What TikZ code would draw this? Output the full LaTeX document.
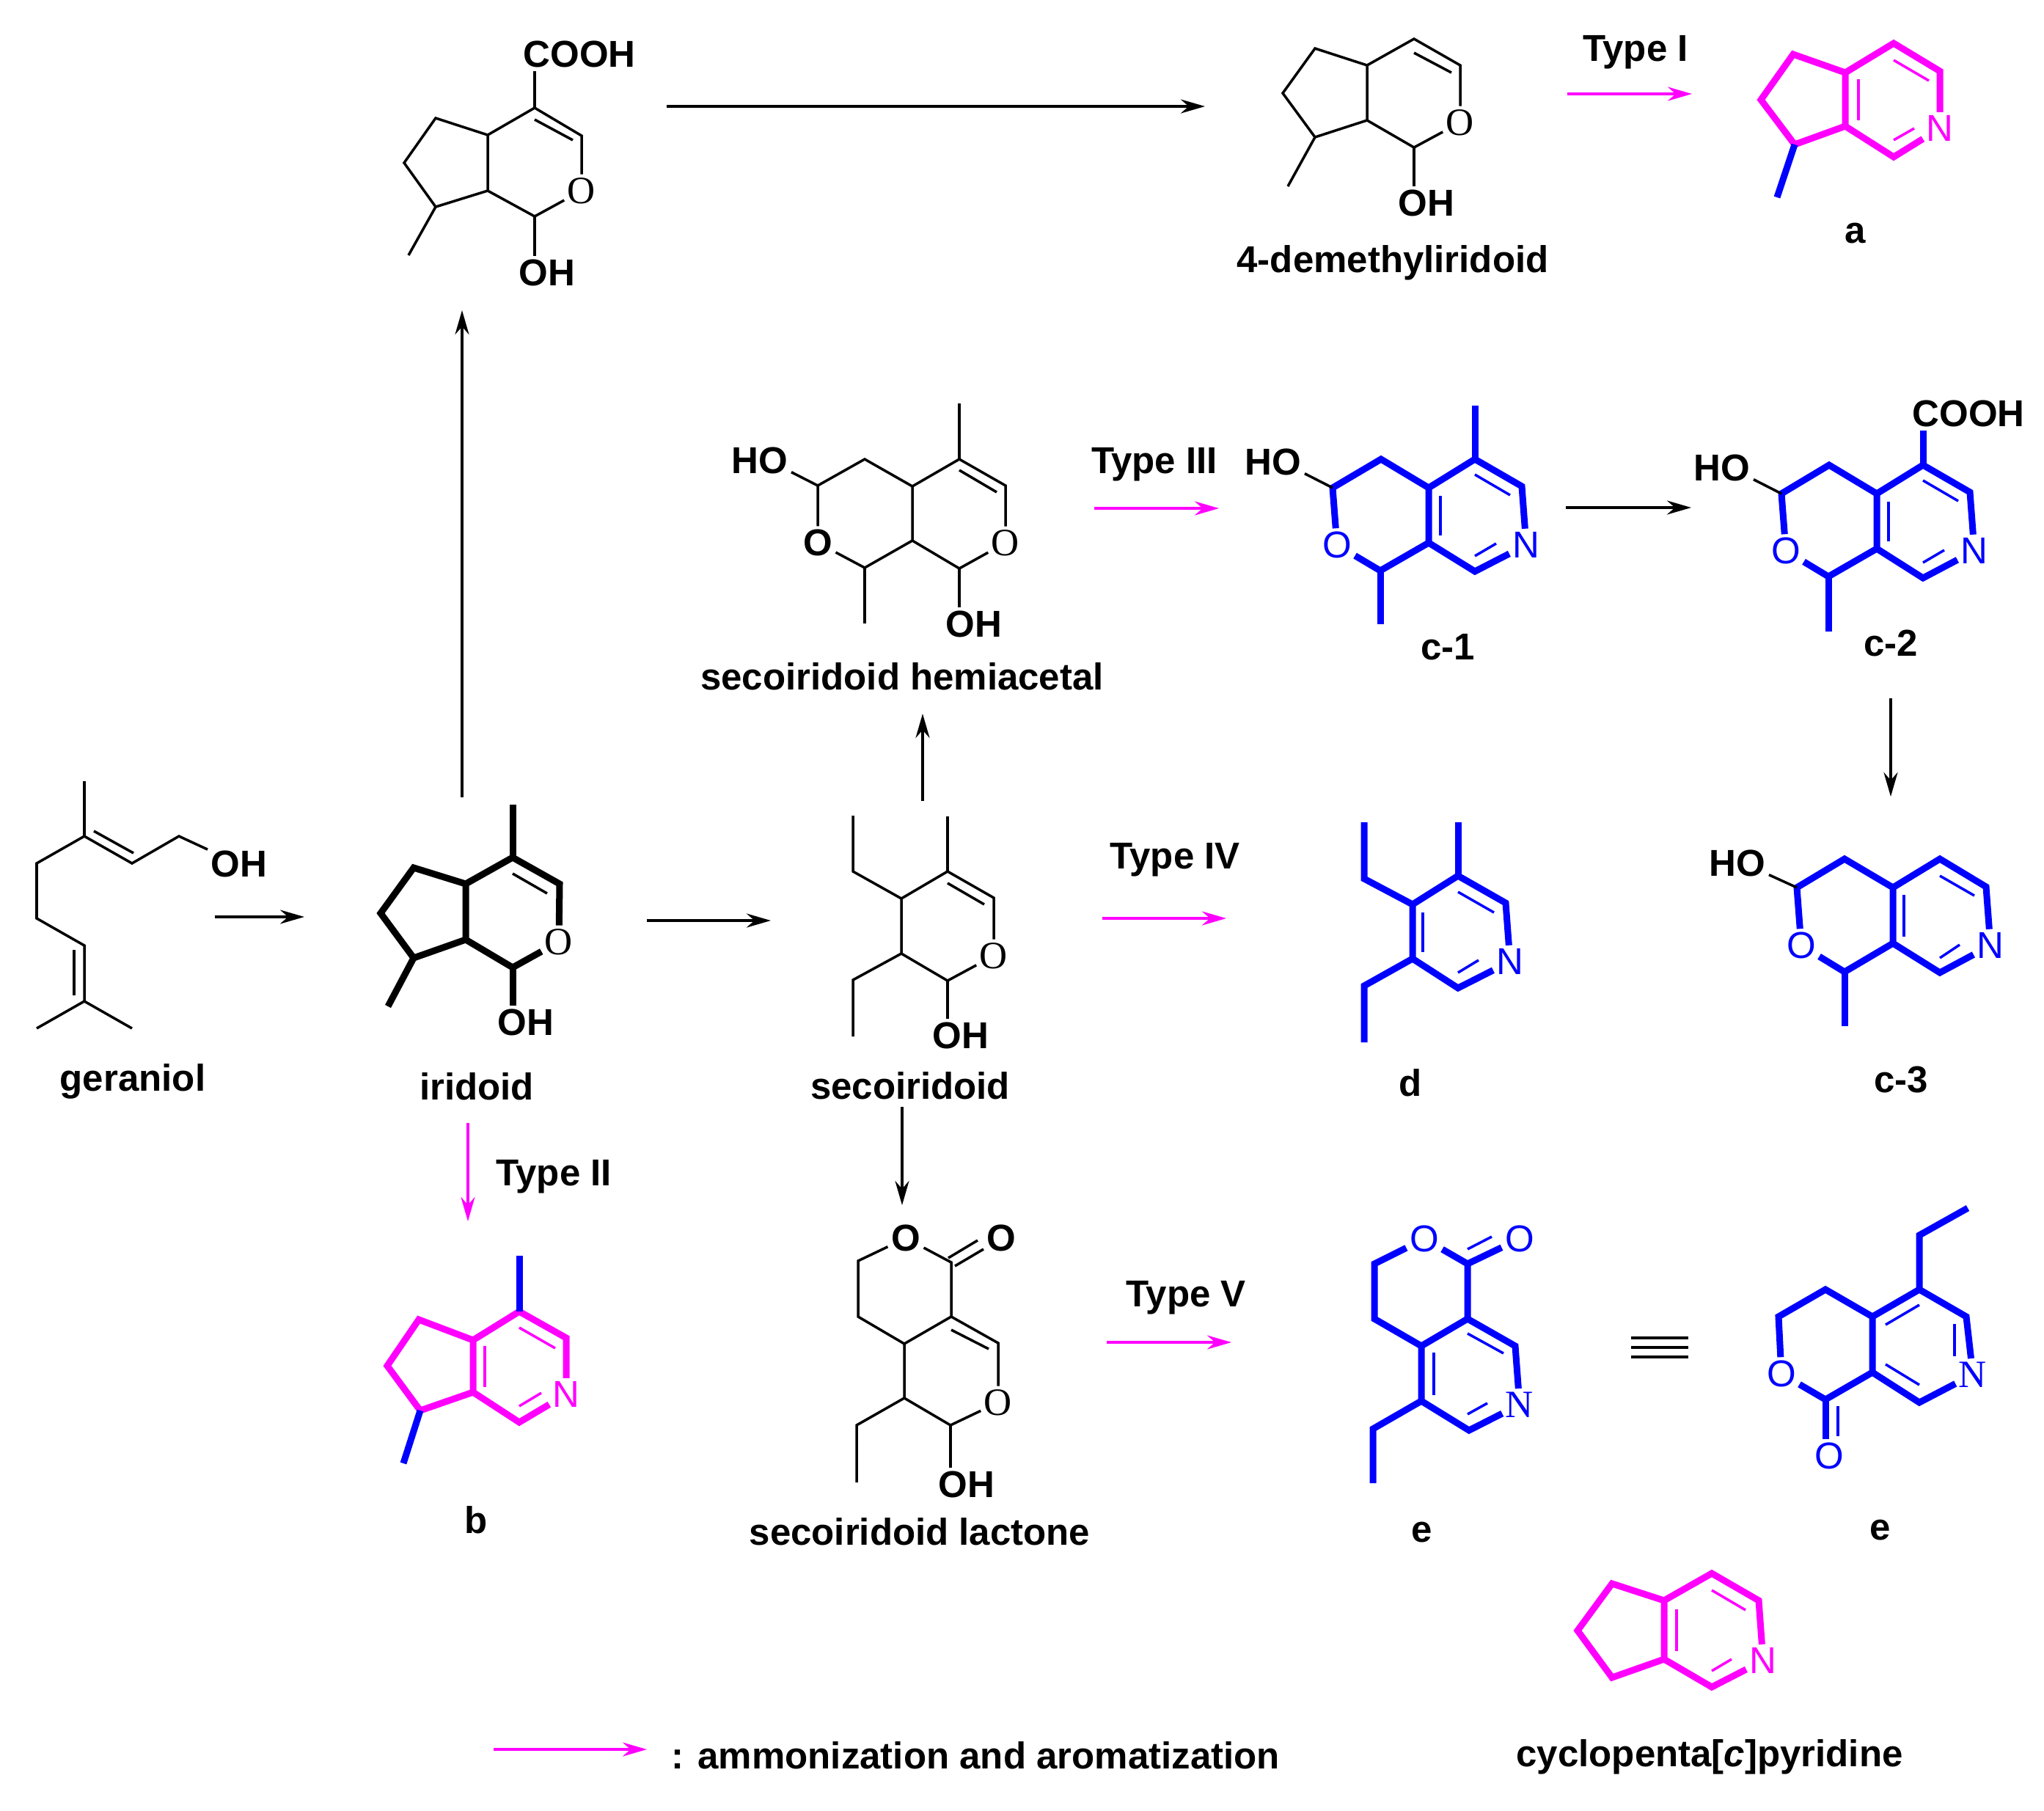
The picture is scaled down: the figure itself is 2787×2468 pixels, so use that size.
\documentclass[tikz,border=0pt]{standalone}
\usepackage{fontspec}
\setsansfont{Liberation Sans}
\newfontfamily\atomserif{Liberation Serif}
\usetikzlibrary{
    arrows.meta,      % For the Stealth arrow tips
    calc
}
\definecolor{AmmoPink}{HTML}{FF00FF}
\definecolor{RingBlue}{HTML}{0000FF}

\begin{document}
\begin{tikzpicture}[x=0.01cm,y=-0.01cm,font=\sffamily]
    % --- Styles ---
    \tikzset{
        bond/.style={line width=0.35mm},
        boldbond/.style={line width=0.9mm},
        dbl/.style={line width=0.35mm},
        arrow/.style={line width=0.35mm,-{Stealth[length=3.3mm,width=1.9mm]}},
        pinkarrow/.style={arrow,draw=AmmoPink},
        compound/.style={inner sep=0pt,font=\sffamily\bfseries\fontsize{14.5}{16}\selectfont},
        atom/.style={inner sep=0.4mm,font=\sffamily\bfseries\fontsize{14.5}{16}\selectfont},
        thinatom/.style={inner sep=0.4mm,font=\sffamily\fontsize{14.5}{16}\selectfont},
        seratom/.style={inner sep=0.4mm,font=\atomserif\fontsize{15}{16}\selectfont},
    }
    \useasboundingbox (0,0) rectangle (2787,2468);

    % --- Geraniol ---
    \coordinate (gerMe) at (115,1065);
    \coordinate (gerA) at (115,1140);
    \coordinate (gerB) at (180,1177);
    \coordinate (gerC) at (244,1140);
    \coordinate (gerD) at (50,1177);
    \coordinate (gerE) at (50,1252);
    \coordinate (gerF) at (115,1289);
    \coordinate (gerG) at (115,1365);
    \coordinate (gerH) at (50,1402);
    \coordinate (gerI) at (180,1402);
    \node[atom] (gerOH) at (326,1178) {OH};
    \node[compound] (gerName) at (181,1474) {geraniol};
    \draw[bond] (gerOH) -- (gerC) -- (gerB) -- (gerA) -- (gerD) -- (gerE) -- (gerF) -- (gerG) -- (gerH);
    \draw[bond] (gerMe) -- (gerA);
    \draw[bond] (gerG) -- (gerI);
    \draw[dbl] (128,1133) -- (182,1163);
    \draw[dbl] (101,1295) -- (101,1357);

    % --- Iridoid ---
    \coordinate (iriC4a) at (635,1205);
    \coordinate (iriC4) at (699,1169);
    \coordinate (iriC3) at (763,1205);
    \coordinate (iriC1) at (699,1319);
    \coordinate (iriC7a) at (635,1281);
    \coordinate (iriC5) at (564,1183);
    \coordinate (iriC6) at (519,1245);
    \coordinate (iriC7) at (564,1306);
    \coordinate (iriMe) at (529,1372);
    \coordinate (iriMeT) at (699,1097);
    \node[seratom] (iriO) at (762,1284) {O};
    \node[atom] (iriOH) at (717,1394) {OH};
    \node[compound] (iriName) at (650,1481) {iridoid};
    \draw[boldbond] (iriO) -- (iriC3) -- (iriC4) -- (iriC4a) -- (iriC7a) -- (iriC1) -- (iriO);
    \draw[boldbond] (iriC4a) -- (iriC5) -- (iriC6) -- (iriC7) -- (iriC7a);
    \draw[boldbond] (iriC7) -- (iriMe);
    \draw[boldbond] (iriC4) -- (iriMeT);
    \draw[boldbond] (iriC1) -- (iriC1 |- iriOH.north);
    \draw[dbl] (699,1191) -- (746,1218);

    % --- Acid above the iridoid ---
    \coordinate (acdC4a) at (665,184);
    \coordinate (acdC4) at (729,147);
    \coordinate (acdC3) at (793,185);
    \coordinate (acdC1) at (729,295);
    \coordinate (acdC7a) at (665,260);
    \coordinate (acdC5) at (594,161);
    \coordinate (acdC6) at (551,222);
    \coordinate (acdC7) at (594,282);
    \coordinate (acdMe) at (557,348);
    \node[seratom] (acdO) at (793,260) {O};
    \node[atom] (acdOH) at (746,372) {OH};
    \node[atom] (acdCOOH) at (790,74) {COOH};
    \draw[bond] (acdO) -- (acdC3) -- (acdC4) -- (acdC4a) -- (acdC7a) -- (acdC1) -- (acdO);
    \draw[bond] (acdC4a) -- (acdC5) -- (acdC6) -- (acdC7) -- (acdC7a);
    \draw[bond] (acdC7) -- (acdMe);
    \draw[bond] (acdC1) -- (acdC1 |- acdOH.north);
    \draw[bond] (acdC4) -- (acdC4 |- acdCOOH.south);
    \draw[dbl] (729,163) -- (781,191);

    % --- 4-demethyliridoid ---
    \coordinate (dmeC4a) at (1864,89);
    \coordinate (dmeC4) at (1928,53);
    \coordinate (dmeC3) at (1991,89);
    \coordinate (dmeC1) at (1928,201);
    \coordinate (dmeC7a) at (1864,164);
    \coordinate (dmeC5) at (1793,66);
    \coordinate (dmeC6) at (1749,127);
    \coordinate (dmeC7) at (1793,187);
    \coordinate (dmeMe) at (1756,254);
    \node[seratom] (dmeO) at (1991,167) {O};
    \node[atom] (dmeOH) at (1945,277) {OH};
    \node[compound] (dmeName) at (1899,358) {4-demethyliridoid};
    \draw[bond] (dmeO) -- (dmeC3) -- (dmeC4) -- (dmeC4a) -- (dmeC7a) -- (dmeC1) -- (dmeO);
    \draw[bond] (dmeC4a) -- (dmeC5) -- (dmeC6) -- (dmeC7) -- (dmeC7a);
    \draw[bond] (dmeC7) -- (dmeMe);
    \draw[bond] (dmeC1) -- (dmeC1 |- dmeOH.north);
    \draw[dbl] (1928,72) -- (1979,99);

    % --- a ---
    \begin{scope}[draw=AmmoPink,text=AmmoPink]
    \coordinate (aaC4a) at (2516,99);
    \coordinate (aaC4) at (2582,59);
    \coordinate (aaC3) at (2645,97);
    \coordinate (aaC1) at (2582,214);
    \coordinate (aaC7a) at (2516,172);
    \coordinate (aaC5) at (2445,74);
    \coordinate (aaC6) at (2401,136);
    \coordinate (aaC7) at (2447,197);
    \node[thinatom] (aaN) at (2645,175) {N};
    \draw[boldbond] (aaN) -- (aaC3) -- (aaC4) -- (aaC4a) -- (aaC7a) -- (aaC1) -- (aaN);
    \draw[boldbond] (aaC4a) -- (aaC5) -- (aaC6) -- (aaC7) -- (aaC7a);
    \draw[dbl] (2582,82) -- (2630,110);
    \draw[dbl] (2534,108) -- (2534,164);
    \draw[dbl] (2582,191) -- (2610,175);
    \end{scope}
    \coordinate (aaMe) at (2423,269);
    \draw[boldbond,RingBlue] (aaC7) -- (aaMe);
    \node[compound] (aaName) at (2530,318) {a};

    % --- b ---
    \begin{scope}[draw=AmmoPink,text=AmmoPink]
    \coordinate (bbC4a) at (645,1827);
    \coordinate (bbC4) at (708,1788);
    \coordinate (bbC3) at (772,1824);
    \coordinate (bbC1) at (708,1939);
    \coordinate (bbC7a) at (645,1898);
    \coordinate (bbC5) at (571,1799);
    \coordinate (bbC6) at (528,1862);
    \coordinate (bbC7) at (573,1923);
    \node[thinatom] (bbN) at (772,1901) {N};
    \draw[boldbond] (bbN) -- (bbC3) -- (bbC4) -- (bbC4a) -- (bbC7a) -- (bbC1) -- (bbN);
    \draw[boldbond] (bbC4a) -- (bbC5) -- (bbC6) -- (bbC7) -- (bbC7a);
    \draw[dbl] (708,1810) -- (757,1838);
    \draw[dbl] (661,1835) -- (661,1891);
    \draw[dbl] (708,1917) -- (738,1899);
    \end{scope}
    \coordinate (bbMe) at (550,1995);
    \coordinate (bbMeT) at (708,1712);
    \draw[boldbond,RingBlue] (bbC7) -- (bbMe);
    \draw[boldbond,RingBlue] (bbC4) -- (bbMeT);
    \node[compound] (bbName) at (649,2072) {b};

    % --- Secoiridoid ---
    \coordinate (secA) at (1163,1112);
    \coordinate (secB) at (1163,1188);
    \coordinate (secC) at (1229,1225);
    \coordinate (secD) at (1292,1188);
    \coordinate (secMe) at (1292,1113);
    \coordinate (secE) at (1355,1224);
    \coordinate (secF) at (1292,1337);
    \coordinate (secG) at (1229,1300);
    \coordinate (secH) at (1163,1336);
    \coordinate (secI) at (1163,1413);
    \node[seratom] (secO) at (1355,1303) {O};
    \node[atom] (secOH) at (1310,1412) {OH};
    \node[compound] (secName) at (1241,1480) {secoiridoid};
    \draw[bond] (secA) -- (secB) -- (secC) -- (secD) -- (secE) -- (secO) -- (secF) -- (secG) -- (secC);
    \draw[bond] (secG) -- (secH) -- (secI);
    \draw[bond] (secD) -- (secMe);
    \draw[bond] (secF) -- (secF |- secOH.north);
    \draw[dbl] (1292,1204) -- (1342,1233);

    % --- Secoiridoid hemiacetal ---
    \coordinate (hemMeT) at (1308,550);
    \coordinate (hemC4) at (1308,626);
    \coordinate (hemC3) at (1371,662);
    \coordinate (hemC1) at (1308,775);
    \coordinate (hemC7a) at (1244,737);
    \coordinate (hemC4a) at (1244,663);
    \coordinate (hemD) at (1179,626);
    \coordinate (hemE) at (1115,662);
    \coordinate (hemF) at (1179,774);
    \coordinate (hemMeB) at (1179,850);
    \node[seratom] (hemO) at (1371,740) {O};
    \node[atom] (hemOb) at (1115,740) {O};
    \node[atom] (hemHO) at (1036,628) {HO};
    \node[atom] (hemOH) at (1328,851) {OH};
    \node[compound] (hemName) at (1230,922) {secoiridoid hemiacetal};
    \draw[bond] (hemO) -- (hemC3) -- (hemC4) -- (hemC4a) -- (hemC7a) -- (hemC1) -- (hemO);
    \draw[bond] (hemC4a) -- (hemD) -- (hemE) -- (hemOb) -- (hemF) -- (hemC7a);
    \draw[bond] (hemC4) -- (hemMeT);
    \draw[bond] (hemF) -- (hemMeB);
    \draw[bond] (hemE) -- (hemHO.-20);
    \draw[bond] (hemC1) -- (hemC1 |- hemOH.north);
    \draw[dbl] (1308,641) -- (1359,671);

    % --- Secoiridoid lactone ---
    \coordinate (lacA) at (1170,1719);
    \coordinate (lacB) at (1170,1795);
    \coordinate (lacC) at (1233,1832);
    \coordinate (lacD) at (1297,1795);
    \coordinate (lacE) at (1297,1721);
    \coordinate (lacF) at (1361,1831);
    \coordinate (lacG) at (1296,1943);
    \coordinate (lacH) at (1233,1906);
    \coordinate (lacI) at (1168,1943);
    \coordinate (lacJ) at (1168,2021);
    \node[atom] (lacOa) at (1235,1688) {O};
    \node[atom] (lacOb) at (1365,1688) {O};
    \node[seratom] (lacOc) at (1361,1912) {O};
    \node[atom] (lacOH) at (1318,2024) {OH};
    \node[compound] (lacName) at (1254,2088) {secoiridoid lactone};
    \draw[bond] (lacOa) -- (lacA) -- (lacB) -- (lacC) -- (lacD) -- (lacE) -- (lacOa);
    \draw[bond] (lacD) -- (lacF) -- (lacOc) -- (lacG) -- (lacH) -- (lacC);
    \draw[bond] (lacH) -- (lacI) -- (lacJ);
    \draw[bond] (lacG) -- (lacG |- lacOH.north);
    \draw[dbl] (1293,1715) -- (1333,1691);
    \draw[dbl] (1302,1726) -- (1341,1703);
    \draw[dbl] (1297,1813) -- (1348,1839);

    % --- c-1 ---
    \begin{scope}[draw=RingBlue,text=RingBlue]
    \coordinate (caMe) at (2011,553);
    \coordinate (caC4) at (2011,626);
    \coordinate (caC3) at (2075,663);
    \coordinate (caC1) at (2011,779);
    \coordinate (caC7a) at (1948,740);
    \coordinate (caC4a) at (1948,665);
    \coordinate (caD) at (1883,626);
    \coordinate (caE) at (1817,665);
    \coordinate (caF) at (1882,778);
    \coordinate (caMeB) at (1882,851);
    \node[thinatom] (caN) at (2081,743) {N};
    \node[thinatom] (caO) at (1823,743) {O};
    \draw[boldbond] (caN) -- (caC3) -- (caC4) -- (caC4a) -- (caC7a) -- (caC1) -- (caN);
    \draw[boldbond] (caC4a) -- (caD) -- (caE) -- (caO) -- (caF) -- (caC7a);
    \draw[boldbond] (caC4) -- (caMe);
    \draw[boldbond] (caF) -- (caMeB);
    \draw[dbl] (2011,647) -- (2059,675);
    \draw[dbl] (1964,676) -- (1964,730);
    \draw[dbl] (2011,758) -- (2040,741);
    \end{scope}
    \node[atom] (caHO) at (1736,630) {HO};
    \draw[bond] (caE) -- (caHO.-20);
    \node[compound] (caName) at (1974,882) {c-1};

    % --- c-2 ---
    \begin{scope}[draw=RingBlue,text=RingBlue]
    \coordinate (cbC4) at (2622,634);
    \coordinate (cbC3) at (2686,671);
    \coordinate (cbC1) at (2622,788);
    \coordinate (cbC7a) at (2559,748);
    \coordinate (cbC4a) at (2559,673);
    \coordinate (cbD) at (2494,634);
    \coordinate (cbE) at (2429,673);
    \coordinate (cbF) at (2493,786);
    \coordinate (cbMeB) at (2493,861);
    \node[thinatom] (cbN) at (2692,751) {N};
    \node[thinatom] (cbO) at (2435,751) {O};
    \draw[boldbond] (cbN) -- (cbC3) -- (cbC4) -- (cbC4a) -- (cbC7a) -- (cbC1) -- (cbN);
    \draw[boldbond] (cbC4a) -- (cbD) -- (cbE) -- (cbO) -- (cbF) -- (cbC7a);
    \draw[boldbond] (cbF) -- (cbMeB);
    \draw[dbl] (2622,655) -- (2670,683);
    \draw[dbl] (2575,684) -- (2575,738);
    \draw[dbl] (2622,767) -- (2651,750);
    \end{scope}
    \node[atom] (cbHO) at (2348,638) {HO};
    \node[atom] (cbCOOH) at (2684,564) {COOH};
    \draw[bond] (cbE) -- (cbHO.-20);
    \draw[boldbond,RingBlue] (cbC4) -- (cbC4 |- cbCOOH.south);
    \node[compound] (cbName) at (2578,877) {c-2};

    % --- c-3 ---
    \begin{scope}[draw=RingBlue,text=RingBlue]
    \coordinate (ccC4) at (2645,1171);
    \coordinate (ccC3) at (2708,1209);
    \coordinate (ccC1) at (2645,1326);
    \coordinate (ccC7a) at (2581,1286);
    \coordinate (ccC4a) at (2581,1210);
    \coordinate (ccD) at (2515,1171);
    \coordinate (ccE) at (2450,1210);
    \coordinate (ccF) at (2515,1325);
    \coordinate (ccMeB) at (2515,1399);
    \node[thinatom] (ccN) at (2714,1289) {N};
    \node[thinatom] (ccO) at (2456,1289) {O};
    \draw[boldbond] (ccN) -- (ccC3) -- (ccC4) -- (ccC4a) -- (ccC7a) -- (ccC1) -- (ccN);
    \draw[boldbond] (ccC4a) -- (ccD) -- (ccE) -- (ccO) -- (ccF) -- (ccC7a);
    \draw[boldbond] (ccF) -- (ccMeB);
    \draw[dbl] (2645,1194) -- (2692,1221);
    \draw[dbl] (2596,1220) -- (2596,1277);
    \draw[dbl] (2645,1306) -- (2672,1288);
    \end{scope}
    \node[atom] (ccHO) at (2369,1177) {HO};
    \draw[bond] (ccE) -- (ccHO.-20);
    \node[compound] (ccName) at (2592,1472) {c-3};

    % --- d ---
    \begin{scope}[draw=RingBlue,text=RingBlue]
    \coordinate (ddA) at (1860,1121);
    \coordinate (ddB) at (1860,1198);
    \coordinate (ddC) at (1926,1233);
    \coordinate (ddD) at (1988,1194);
    \coordinate (ddMe) at (1988,1121);
    \coordinate (ddE) at (2053,1231);
    \coordinate (ddF) at (1988,1347);
    \coordinate (ddG) at (1926,1307);
    \coordinate (ddH) at (1860,1344);
    \coordinate (ddI) at (1860,1421);
    \node[thinatom] (ddN) at (2059,1311) {N};
    \draw[boldbond] (ddA) -- (ddB) -- (ddC) -- (ddD) -- (ddE) -- (ddN) -- (ddF) -- (ddG) -- (ddC);
    \draw[boldbond] (ddG) -- (ddH) -- (ddI);
    \draw[boldbond] (ddD) -- (ddMe);
    \draw[dbl] (1988,1216) -- (2037,1244);
    \draw[dbl] (1940,1244) -- (1940,1298);
    \draw[dbl] (1988,1326) -- (2016,1309);
    \end{scope}
    \node[compound] (ddName) at (1923,1476) {d};

    % --- e, first drawing ---
    \begin{scope}[draw=RingBlue,text=RingBlue]
    \coordinate (eaC) at (2001,1723);
    \coordinate (eaD) at (2001,1798);
    \coordinate (eaE) at (2066,1835);
    \coordinate (eaF) at (2003,1950);
    \coordinate (eaG) at (1938,1910);
    \coordinate (eaH) at (1938,1835);
    \coordinate (eaI) at (1874,1798);
    \coordinate (eaJ) at (1874,1723);
    \coordinate (eaK) at (1872,1948);
    \coordinate (eaL) at (1872,2022);
    \node[thinatom] (eaO) at (1942,1689) {O};
    \node[thinatom] (eaOb) at (2072,1689) {O};
    \node[seratom] (eaN) at (2072,1915) {N};
    \draw[boldbond] (eaO) -- (eaJ) -- (eaI) -- (eaH) -- (eaD) -- (eaC) -- (eaO);
    \draw[boldbond] (eaC) -- (eaOb);
    \draw[boldbond] (eaD) -- (eaE) -- (eaN) -- (eaF) -- (eaG) -- (eaH);
    \draw[boldbond] (eaG) -- (eaK) -- (eaL);
    \draw[dbl] (2001,1703) -- (2034,1686);
    \draw[dbl] (2001,1818) -- (2050,1845);
    \draw[dbl] (1955,1844) -- (1955,1902);
    \draw[dbl] (2001,1928) -- (2028,1913);
    \end{scope}
    \node[compound] (eaName) at (1939,2089) {e};

    % --- Three lines between the two drawings of e ---
    \coordinate (eqLa) at (2224,1824);
    \coordinate (eqRa) at (2302,1824);
    \coordinate (eqLb) at (2224,1837);
    \coordinate (eqRb) at (2302,1837);
    \coordinate (eqLc) at (2224,1850);
    \coordinate (eqRc) at (2302,1850);
    \draw[bond] (eqLa) -- (eqRa);
    \draw[bond] (eqLb) -- (eqRb);
    \draw[bond] (eqLc) -- (eqRc);

    % --- e, second drawing ---
    \begin{scope}[draw=RingBlue,text=RingBlue]
    \coordinate (ebA) at (2683,1647);
    \coordinate (ebB) at (2617,1684);
    \coordinate (ebC) at (2617,1758);
    \coordinate (ebD) at (2681,1795);
    \coordinate (ebF) at (2617,1912);
    \coordinate (ebG) at (2553,1871);
    \coordinate (ebH) at (2553,1795);
    \coordinate (ebI) at (2489,1758);
    \coordinate (ebJ) at (2425,1795);
    \coordinate (ebK) at (2489,1908);
    \node[seratom] (ebN) at (2690,1874) {N};
    \node[thinatom] (ebO) at (2429,1873) {O};
    \node[thinatom] (ebOb) at (2494,1985) {O};
    \draw[boldbond] (ebA) -- (ebB) -- (ebC) -- (ebD) -- (ebN) -- (ebF) -- (ebG) -- (ebH) -- (ebC);
    \draw[boldbond] (ebH) -- (ebI) -- (ebJ) -- (ebO) -- (ebK) -- (ebG);
    \draw[boldbond] (ebK) -- (ebK |- ebOb.north);
    \draw[dbl] (2571,1806) -- (2617,1779);
    \draw[dbl] (2665,1805) -- (2665,1849);
    \draw[dbl] (2571,1860) -- (2617,1888);
    \draw[dbl] (2506,1917) -- (2506,1958);
    \end{scope}
    \node[compound] (ebName) at (2564,2086) {e};

    % --- cyclopenta[c]pyridine ---
    \begin{scope}[draw=AmmoPink,text=AmmoPink]
    \coordinate (cycC4a) at (2269,2182);
    \coordinate (cycC4) at (2334,2145);
    \coordinate (cycC3) at (2398,2182);
    \coordinate (cycC1) at (2334,2300);
    \coordinate (cycC7a) at (2269,2262);
    \coordinate (cycC5) at (2198,2159);
    \coordinate (cycC6) at (2151,2223);
    \coordinate (cycC7) at (2198,2287);
    \node[thinatom] (cycN) at (2404,2264) {N};
    \draw[boldbond] (cycN) -- (cycC3) -- (cycC4) -- (cycC4a) -- (cycC7a) -- (cycC1) -- (cycN);
    \draw[boldbond] (cycC4a) -- (cycC5) -- (cycC6) -- (cycC7) -- (cycC7a);
    \draw[dbl] (2334,2168) -- (2380,2195);
    \draw[dbl] (2286,2194) -- (2286,2251);
    \draw[dbl] (2334,2278) -- (2361,2262);
    \end{scope}
    \node[compound] (cycName) at (2331,2395) {cyclopenta[\textit{c}]pyridine};

    % --- Type labels ---
    \node[compound] (typeOne) at (2230,71) {Type I};
    \node[compound] (typeTwo) at (755,1604) {Type II};
    \node[compound] (typeThree) at (1574,633) {Type III};
    \node[compound] (typeFour) at (1602,1172) {Type IV};
    \node[compound] (typeFive) at (1617,1769) {Type V};
    \node[compound,anchor=west] (legendText) at (915,2393) {: ammonization and aromatization};

    % --- Free arrow ends ---
    \coordinate (gerOut) at (293,1250);   \coordinate (iriIn) at (415,1250);
    \coordinate (iriOut) at (882,1255);   \coordinate (secIn) at (1051,1255);
    \coordinate (iriUp) at (630,1087);    \coordinate (acdIn) at (630,423);
    \coordinate (acdOut) at (909,145);    \coordinate (dmeIn) at (1643,145);
    \coordinate (dmeOut) at (2137,128);   \coordinate (aaIn) at (2307,128);
    \coordinate (iriDown) at (638,1531);  \coordinate (bbIn) at (638,1665);
    \coordinate (secUp) at (1258,1092);   \coordinate (hemIn) at (1258,973);
    \coordinate (secDown) at (1230,1509); \coordinate (lacIn) at (1230,1643);
    \coordinate (hemOut) at (1492,693);   \coordinate (caIn) at (1662,693);
    \coordinate (caOut) at (2135,692);    \coordinate (cbIn) at (2306,692);
    \coordinate (cbOut) at (2578,952);    \coordinate (ccIn) at (2578,1086);
    \coordinate (secOut) at (1503,1252);  \coordinate (ddIn) at (1672,1252);
    \coordinate (lacOut) at (1509,1830);  \coordinate (eaIn) at (1679,1830);
    \coordinate (keyL) at (673,2385);     \coordinate (keyR) at (882,2385);

    % --- Arrows ---
    \draw[arrow] (gerOut) -- (iriIn);
    \draw[arrow] (iriOut) -- (secIn);
    \draw[arrow] (iriUp) -- (acdIn);
    \draw[arrow] (acdOut) -- (dmeIn);
    \draw[arrow] (secUp) -- (hemIn);
    \draw[arrow] (secDown) -- (lacIn);
    \draw[arrow] (caOut) -- (cbIn);
    \draw[arrow] (cbOut) -- (ccIn);
    \draw[pinkarrow] (dmeOut) -- (aaIn);
    \draw[pinkarrow] (iriDown) -- (bbIn);
    \draw[pinkarrow] (hemOut) -- (caIn);
    \draw[pinkarrow] (secOut) -- (ddIn);
    \draw[pinkarrow] (lacOut) -- (eaIn);
    \draw[pinkarrow] (keyL) -- (keyR);
\end{tikzpicture}
\end{document}
